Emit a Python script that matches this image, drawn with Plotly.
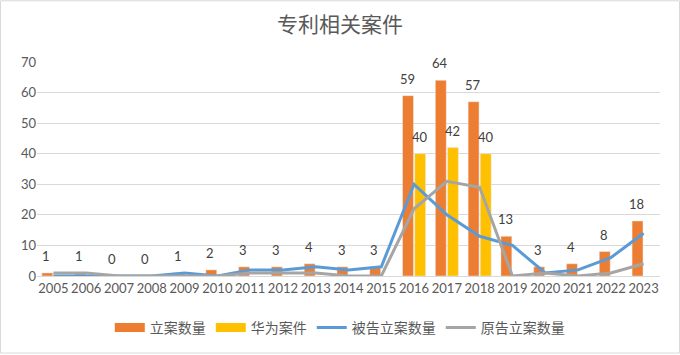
import plotly.graph_objects as go

years = [str(y) for y in range(2005, 2024)]
filed = [1, 1, 0, 0, 1, 2, 3, 3, 4, 3, 3, 59, 64, 57, 13, 3, 4, 8, 18]
huawei = [None] * 11 + [40, 42, 40] + [None] * 5
defendant = [0, 0, 0, 0, 1, 0, 2, 2, 3, 2, 3, 30, 20, 13, 10, 1, 2, 6, 14]
plaintiff = [1, 1, 0, 0, 0, 0, 1, 1, 1, 0, 0, 22, 31, 29, 0, 1, 0, 1, 4]

ORANGE = "#ED7D31"
YELLOW = "#FFC000"
BLUE = "#5B9BD5"
GRAY = "#A5A5A5"
TXT = "#595959"
LBL = "#404040"
NUMFONT = "Lato, Liberation Sans, sans-serif"
CJK = "Noto Sans CJK SC"

fig = go.Figure()
fig.add_trace(go.Bar(x=years, y=filed, marker_color=ORANGE, name="立案数量",
                     showlegend=False))
fig.add_trace(go.Bar(x=years, y=huawei, marker_color=YELLOW, name="华为案件",
                     showlegend=False))
fig.add_trace(go.Scatter(x=years, y=defendant, mode="lines", name="被告立案数量",
                         line=dict(color=BLUE, width=3), showlegend=False))
fig.add_trace(go.Scatter(x=years, y=plaintiff, mode="lines", name="原告立案数量",
                         line=dict(color=GRAY, width=3), showlegend=False))

# legend entries
for nm, col, w in [("立案数量", ORANGE, 9), ("华为案件", YELLOW, 9),
                   ("被告立案数量", BLUE, 3), ("原告立案数量", GRAY, 3)]:
    fig.add_trace(go.Scatter(x=[None], y=[None], mode="lines", name=nm,
                             line=dict(color=col, width=w)))

# data labels (x given as category index)
for i, v in enumerate(filed):
    fig.add_annotation(x=i, y=v, text=str(v), showarrow=False, yanchor="bottom",
                       xshift=-7, yshift=7, font=dict(family=NUMFONT, size=13, color=LBL))
for i, v in enumerate(huawei):
    if v is not None:
        fig.add_annotation(x=i, y=v, text=str(v), showarrow=False, yanchor="bottom",
                           xshift=6, yshift=7, font=dict(family=NUMFONT, size=13, color=LBL))

fig.update_layout(
    width=680, height=355,
    margin=dict(l=37, r=20, t=62, b=78),
    paper_bgcolor="white", plot_bgcolor="white",
    barmode="group", bargap=0.26, bargroupgap=0.1,
    title=dict(text="专利相关案件", x=0.5, xanchor="center", y=0.93, yanchor="middle",
               font=dict(family=CJK, size=21, color=TXT)),
    legend=dict(orientation="h", x=0.486, xanchor="center", y=-0.237, yanchor="middle",
                font=dict(family=CJK, size=14, color=TXT), itemwidth=30,
                traceorder="normal"),
    font=dict(family=NUMFONT, color=TXT),
)
fig.update_xaxes(type="category", range=[-0.5, len(years) - 0.5], showgrid=False,
                 showline=True, linecolor="#D9D9D9", linewidth=1, ticks="",
                 tickfont=dict(family=NUMFONT, size=13, color=TXT))
fig.update_yaxes(range=[0, 70], dtick=10, showgrid=True, gridcolor="#D9D9D9", gridwidth=1,
                 zeroline=False, showline=False, ticks="",
                 tickfont=dict(family=NUMFONT, size=13, color=TXT))

fig.add_shape(type="rect", xref="paper", yref="paper",
              x0=-0.0586, x1=1.0313, y0=-0.360, y1=1.286,
              line=dict(color="#D9D9D9", width=1), layer="below")

fig.write_html("out.html", config={"displayModeBar": False},
               post_script="document.body.style.margin='0';document.body.style.overflow='hidden';")
